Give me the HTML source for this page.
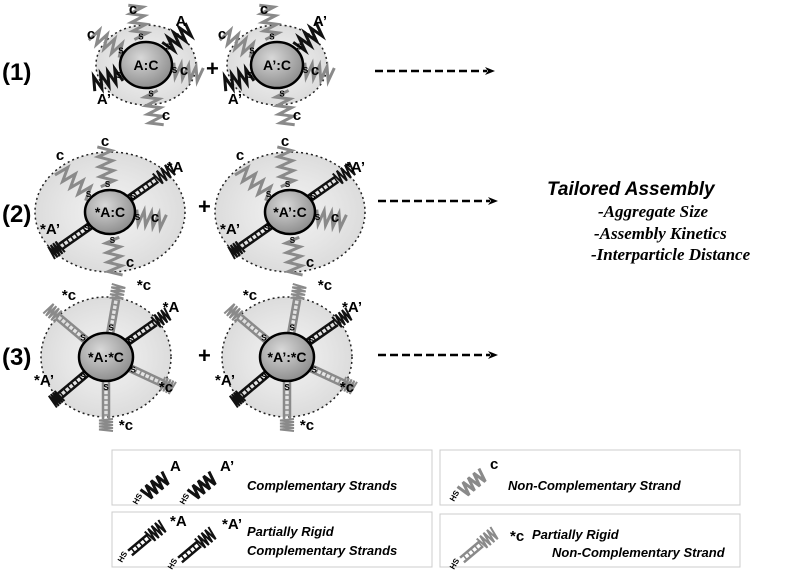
<!DOCTYPE html>
<html><head><meta charset="utf-8"><style>
html,body{margin:0;padding:0;background:#fff}
svg{display:block}
text{font-family:"Liberation Sans",sans-serif;font-weight:bold}
</style></head><body>
<svg id="s" width="800" height="572" viewBox="0 0 800 572" xmlns="http://www.w3.org/2000/svg">
<defs>
<radialGradient id="core" cx="40%" cy="35%" r="70%"><stop offset="0" stop-color="#d8d8d8"/><stop offset="1" stop-color="#8a8a8a"/></radialGradient>
<radialGradient id="halo" cx="50%" cy="50%" r="50%"><stop offset="0" stop-color="#f2f2f2"/><stop offset="0.6" stop-color="#e6e6e6"/><stop offset="1" stop-color="#dcdcdc"/></radialGradient>
<marker id="ah" markerWidth="10" markerHeight="8" refX="2" refY="4" orient="auto" markerUnits="userSpaceOnUse"><path d="M0,0 L10,4 L0,8 L3,4z" fill="#000"/></marker>
</defs>
<!-- legend boxes -->
<rect x="112" y="450" width="320" height="55" fill="#fff" stroke="#ccc"/>
<rect x="440" y="450" width="300" height="55" fill="#fff" stroke="#ccc"/>
<rect x="112" y="512" width="320" height="55" fill="#fff" stroke="#ccc"/>
<rect x="440" y="514" width="300" height="53" fill="#fff" stroke="#ccc"/>
<g id="g"></g>
<text x="2" y="80" font-size="24">(1)</text>
<text x="2" y="222" font-size="24">(2)</text>
<text x="2" y="365" font-size="24">(3)</text>
<text x="206" y="76" font-size="22">+</text>
<text x="198" y="214" font-size="22">+</text>
<text x="198" y="363" font-size="22">+</text>
<line x1="375" y1="71" x2="487" y2="71" stroke="#000" stroke-width="2.5" stroke-dasharray="8,4" marker-end="url(#ah)"/>
<line x1="378" y1="201" x2="490" y2="201" stroke="#000" stroke-width="2.5" stroke-dasharray="8,4" marker-end="url(#ah)"/>
<line x1="378" y1="355" x2="490" y2="355" stroke="#000" stroke-width="2.5" stroke-dasharray="8,4" marker-end="url(#ah)"/>
<text x="547" y="195" font-size="19" font-style="italic">Tailored Assembly</text>
<g font-style="italic" font-weight="bold" font-size="17">
<text x="598" y="217" style="font-family:'Liberation Serif',serif">-Aggregate Size</text>
<text x="594" y="239" style="font-family:'Liberation Serif',serif">-Assembly Kinetics</text>
<text x="591" y="260" style="font-family:'Liberation Serif',serif">-Interparticle Distance</text>
</g>
<g font-style="italic" font-size="13">
<text x="247" y="490">Complementary Strands</text>
<text x="508" y="490">Non-Complementary Strand</text>
<text x="247" y="536">Partially Rigid</text>
<text x="247" y="555">Complementary Strands</text>
<text x="532" y="539">Partially Rigid</text>
<text x="552" y="557">Non-Complementary Strand</text>
</g>
<g font-size="15">
<text x="170" y="471">A</text><text x="220" y="471">A’</text>
<text x="490" y="469">c</text>
<text x="170" y="526">*A</text><text x="222" y="529">*A’</text>
<text x="510" y="541">*c</text>
</g>
</svg>
<script>
var g=document.getElementById('g'),NS='http://www.w3.org/2000/svg';
function el(n,a,p){var e=document.createElementNS(NS,n);for(var k in a)e.setAttribute(k,a[k]);(p||g).appendChild(e);return e;}
function txt(x,y,t,fs,p){var e=el('text',{x:x,y:y,'font-size':fs||15,'text-anchor':'middle'},p);e.textContent=t;return e;}
function squig(x,y,ang,len,col,w){var pts=[],n=8;for(var i=0;i<=n;i++){var t=i/n*len,o=(i%2?1:-1)*7;var c=Math.cos(ang),s=Math.sin(ang);pts.push((x+c*t-s*o).toFixed(1)+','+(y+s*t+c*o).toFixed(1));}
el('polyline',{points:pts.join(' '),fill:'none',stroke:col,'stroke-width':w||3});}
function ladder(x,y,ang,len,col){var c=Math.cos(ang),s=Math.sin(ang),o=3;
el('line',{x1:x-s*o,y1:y+c*o,x2:x+c*len-s*o,y2:y+s*len+c*o,stroke:col,'stroke-width':2.5});
el('line',{x1:x+s*o,y1:y-c*o,x2:x+c*len+s*o,y2:y+s*len-c*o,stroke:col,'stroke-width':2.5});
for(var t=4;t<len;t+=5)el('line',{x1:x+c*t-s*o,y1:y+s*t+c*o,x2:x+c*t+s*o,y2:y+s*t-c*o,stroke:col,'stroke-width':1.5});}
function particle(cx,cy,rx,ry,cr,label,strands){
el('ellipse',{cx:cx,cy:cy,rx:rx,ry:ry,fill:'url(#halo)',stroke:'#222','stroke-width':1.5,'stroke-dasharray':'2,3'});
strands.forEach(function(s){var a=s[0]*Math.PI/180,c=Math.cos(a),sn=Math.sin(a);var x0=cx+c*cr,y0=cy+sn*cr;
if(s[3]){ladder(x0,y0,a,s[3],s[1]);squig(x0+c*s[3],y0+sn*s[3],a,s[4]||18,s[1],2);}
else squig(x0+c*4,y0+sn*4,a,s[2],s[1],3);
txt(cx+c*(cr+6),cy+sn*(cr+6)+3,'S',8);
if(s[5])txt(s[5][0],s[5][1],s[5][2],15);});
el('ellipse',{cx:cx,cy:cy,rx:cr+3,ry:cr,fill:'url(#core)',stroke:'#000','stroke-width':2.5});
txt(cx,cy+5,label,14);}
var G='#8a8a8a',K='#111';
[[146,'A:C','A','A’'],[277,'A’:C','A’','A’']].forEach(function(p,i){
particle(p[0],65,50,40,23,p[1],[[-100,G,35,0,0,[p[0]-13,14,'c']],[-150,G,35,0,0,[p[0]-55,39,'c']],[-40,K,30,0,0,[p[0]+35+(i?8:0),26,p[2]]],[10,G,30,0,0,[p[0]+38,75,'c']],[160,K,30,0,0,[p[0]-42,104,p[3]]],[80,G,35,0,0,[p[0]+20,120,'c']]]);});
[[110,'*A:C','*A','*A’'],[290,'*A’:C','*A’','*A’']].forEach(function(p,i){
particle(p[0],212,75,60,22,p[1],[[-95,G,40,0,0,[p[0]-5,146,'c']],[-140,G,40,0,0,[p[0]-50,160,'c']],[-35,K,0,35,20,[p[0]+65,172,p[2]]],[10,G,30,0,0,[p[0]+45,222,'c']],[145,K,0,38,12,[p[0]-60,234,p[3]]],[85,G,38,0,0,[p[0]+20,267,'c']]]);});
[[106,'*A:*C','*A','*A’'],[287,'*A’:*C','*A’','*A’']].forEach(function(p,i){
particle(p[0],357,65,60,24,p[1],[[-80,G,0,35,14,[p[0]+38,290,'*c']],[-140,G,0,38,14,[p[0]-37,300,'*c']],[-35,K,0,36,16,[p[0]+65,312,p[2]]],[25,G,0,38,12,[p[0]+60,392,'*c']],[140,K,0,36,10,[p[0]-62,385,p[3]]],[90,G,0,38,12,[p[0]+20,430,'*c']]]);});
function ls(x,y,col,rig){var a=-40*Math.PI/180;if(rig){ladder(x,y,a,25,col);squig(x+25*Math.cos(a),y+25*Math.sin(a),a,18,col,2);}else squig(x,y,a,28,col,3);
var t=el('text',{x:x-8,y:y+10,'font-size':8,transform:'rotate(-60 '+(x-8)+' '+(y+10)+')'});t.textContent='HS';}
ls(145,495,K);ls(192,495,K);ls(462,492,G);ls(130,553,K,1);ls(180,560,K,1);ls(462,560,G,1);
</script>
</body></html>
